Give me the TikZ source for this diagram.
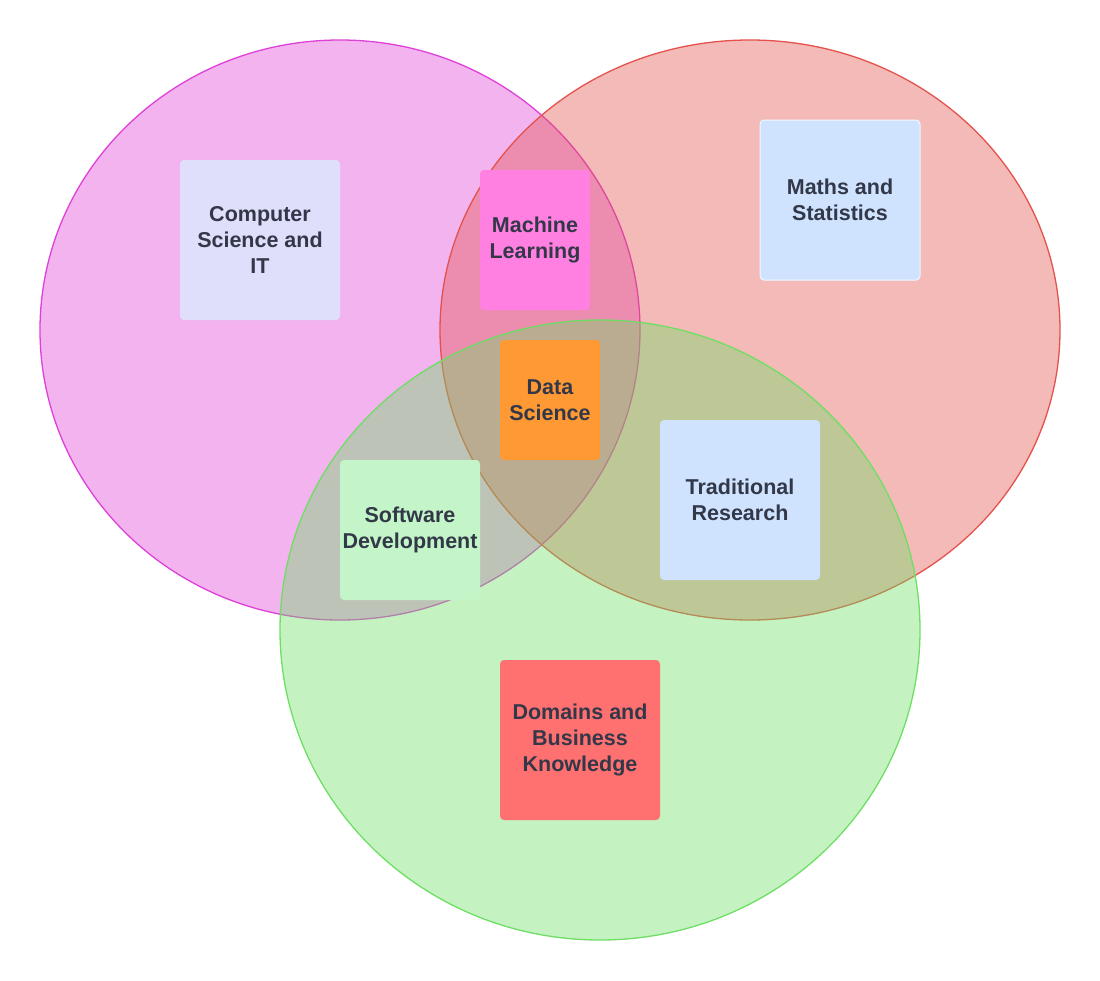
\documentclass[tikz,border=0pt]{standalone}
\usepackage{fontspec}
\setmainfont{Liberation Sans}
\usepackage{xcolor}
\usetikzlibrary{positioning}

\definecolor{cspink}{HTML}{DE41D7}
\definecolor{msred}{HTML}{E3524D}
\definecolor{dbgreen}{HTML}{6EDE64}
\definecolor{txtgray}{HTML}{333849}
\definecolor{lavender}{HTML}{DFDFFC}
\definecolor{mlpink}{HTML}{FF80E0}
\definecolor{paleblue}{HTML}{CFE3FF}
\definecolor{dsorange}{HTML}{FF9933}
\definecolor{palegreen}{HTML}{C3F5C8}
\definecolor{salmon}{HTML}{FF7070}

\begin{document}
\begin{tikzpicture}[x=1pt, y=-1pt,
  area/.style={line width=1.3pt, fill opacity=0.4},
  topic/.style={rounded corners=4pt, align=center, text=txtgray,
    font=\fontsize{21.5}{26}\selectfont\bfseries, inner sep=0pt}]
  \useasboundingbox (0,0) rectangle (1100,980);
  % Circles
  \draw[area, draw=cspink, fill=cspink] (340,330) ellipse [x radius=300, y radius=290];
  \draw[area, draw=msred, fill=msred] (750,330) ellipse [x radius=310, y radius=290];
  \draw[area, draw=dbgreen, fill=dbgreen] (600,630) ellipse [x radius=320, y radius=310];
  % Topics
  \node[topic, fill=lavender, minimum width=160pt, minimum height=160pt]
    (compsci) at (260,240) {Computer\\Science and\\IT};
  \node[topic, fill=mlpink, minimum width=110pt, minimum height=140pt]
    (machlearn) at (535,240) {Machine\\Learning};
  \node[topic, fill=paleblue, draw=white!70!paleblue, line width=1pt,
    minimum width=160pt, minimum height=160pt]
    (mathstat) at (840,200) {Maths and\\Statistics};
  \node[topic, fill=dsorange, minimum width=100pt, minimum height=120pt]
    (datasci) at (550,400) {Data\\Science};
  \node[topic, fill=paleblue, minimum width=160pt, minimum height=160pt]
    (tradres) at (740,500) {Traditional\\Research};
  \node[topic, fill=palegreen, minimum width=140pt, minimum height=140pt]
    (softdev) at (410,530) {Software\\Development};
  \node[topic, fill=salmon, minimum width=160pt, minimum height=160pt]
    (domains) at (580,740) {Domains and\\Business\\Knowledge};
\end{tikzpicture}
\end{document}
